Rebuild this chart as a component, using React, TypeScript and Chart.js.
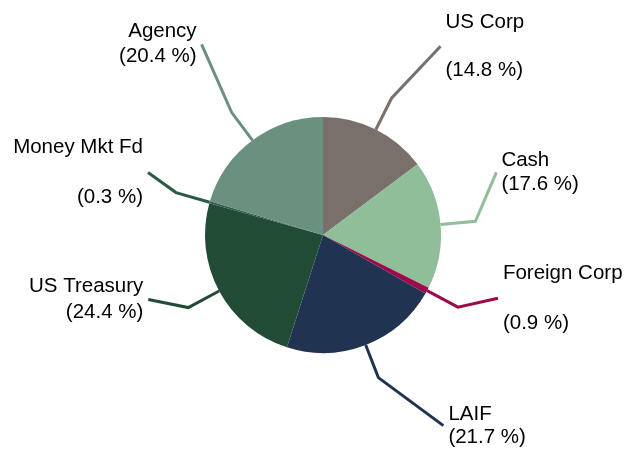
import React, { useEffect, useRef } from "react";
import { Chart, registerables } from "chart.js";

Chart.register(...registerables);

const categories = ["US Corp", "Cash", "Foreign Corp", "LAIF", "US Treasury", "Money Mkt Fd", "Agency"];
const values = [14.8, 17.6, 0.9, 21.7, 24.4, 0.3, 20.4];
const colors = ["#7a706b", "#8fbe98", "#9c0a4c", "#203452", "#224b36", "#2c5a45", "#6a9080"];

// label layout: offset of leader end from the bend point, and gap between name and value lines
const labelOffsets: [number, number][] = [
  [49, -52],
  [21, -49],
  [40, -9],
  [65, 48],
  [-40, -8],
  [-28, -20],
  [-30, -68],
];
const labelGaps = [48, 24, 50, 23, 26, 50, 25];

const FONT = '20.5px "Liberation Sans", Arial, sans-serif';

const leaderPlugin = {
  id: "leaders",
  afterDatasetsDraw(chart: any) {
    const ctx = chart.ctx as CanvasRenderingContext2D;
    const meta = chart.getDatasetMeta(0);
    meta.data.forEach((arc: any, i: number) => {
      const { x, y, startAngle, endAngle, outerRadius } = arc.getProps(
        ["x", "y", "startAngle", "endAngle", "outerRadius"],
        true
      );
      const mid = (startAngle + endAngle) / 2;
      const c = Math.cos(mid);
      const s = Math.sin(mid);
      const ex = x + outerRadius * c;
      const ey = y + outerRadius * s;
      const bx = x + (outerRadius + 35) * c;
      const by = y + (outerRadius + 35) * s;
      const [dx, dy] = labelOffsets[i];
      const lx = bx + dx;
      const ly = by + dy;
      ctx.save();
      ctx.strokeStyle = colors[i];
      ctx.lineWidth = 3;
      ctx.lineJoin = "miter";
      ctx.beginPath();
      ctx.moveTo(ex, ey);
      ctx.lineTo(bx, by);
      ctx.lineTo(lx, ly);
      ctx.stroke();
      ctx.fillStyle = "#000";
      ctx.font = FONT;
      ctx.textBaseline = "middle";
      const right = dx > 0;
      ctx.textAlign = right ? "left" : "right";
      const tx = right ? lx + 5 : lx - 5;
      const g = labelGaps[i] / 2;
      ctx.fillText(categories[i], tx, ly - g);
      ctx.fillText(`(${values[i].toFixed(1)} %)`, tx, ly + g);
      ctx.restore();
    });
  },
};

export default function App() {
  const ref = useRef<HTMLCanvasElement>(null);
  useEffect(() => {
    if (!ref.current) return;
    const chart = new Chart(ref.current, {
      type: "pie",
      data: {
        labels: categories,
        datasets: [
          {
            data: values,
            backgroundColor: colors,
            borderWidth: 0,
          },
        ],
      },
      options: {
        responsive: false,
        animation: false,
        layout: { padding: { left: 205, right: 185, top: 117, bottom: 96 } },
        plugins: {
          legend: { display: false },
          tooltip: { enabled: false },
        },
      },
      plugins: [leaderPlugin],
    });
    return () => chart.destroy();
  }, []);
  return (
    <div style={{ position: "fixed", left: 0, top: 0, width: 626, height: 449, background: "#fff" }}>
      <canvas ref={ref} width={626} height={449} style={{ width: 626, height: 449, display: "block" }} />
    </div>
  );
}
